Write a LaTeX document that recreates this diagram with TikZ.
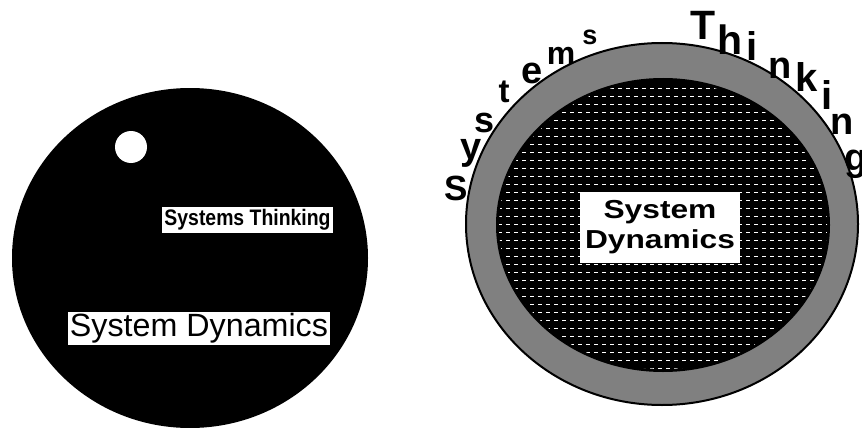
\documentclass[tikz,border=0pt]{standalone}
\usepackage{fontspec}
\setmainfont{Liberation Sans}
\usepackage{graphicx}
\begin{document}
\begin{tikzpicture}[x=1pt,y=-1pt,
  arcl/.style={font=\bfseries\fontsize{#1}{#1}\selectfont, anchor=base, inner sep=0pt, text=black},
  wbox/.style={fill=white, inner sep=0pt, text=black},
  ring/.style={fill=black!50, draw=black, line width=2pt},
  core/.style={fill=black},
  dots/.style={draw=white, line width=1pt, dash pattern=on 3.5pt off 4.5pt}]
\useasboundingbox (0,0) rectangle (862,428);
% ---- left disc ----
\fill[black] (190,258) ellipse [x radius=178, y radius=170];
\fill[white] (131,147) circle [radius=16];
\node[wbox, minimum width=171pt, minimum height=26pt] (st) at (247.5,220)
  {\resizebox*{166pt}{21pt}{\bfseries Systems Thinking}};
\node[wbox, minimum width=262pt, minimum height=33pt] (sd) at (199,328.5)
  {\resizebox*{258pt}{30pt}{System Dynamics}};
% ---- right disc ----
\path[ring] (662,224) ellipse [x radius=196, y radius=181];
\path[core] (663,225) ellipse [x radius=167, y radius=147];
\begin{scope}
  \clip (663,225) ellipse [x radius=164, y radius=144];
  \foreach \k in {0,...,38} {
    \draw[dots] (490,{80+8*\k}) -- (840,{80+8*\k});
  }
\end{scope}
\node[wbox, minimum width=160pt, minimum height=71pt, align=center,
      font=\bfseries\fontsize{26}{30}\selectfont] (rsd) at (660,227.5)
  {\scalebox{1.22}[1]{System}\\\scalebox{1.22}[1]{Dynamics}};
% ---- arc letters ----
\node[arcl=35] (a1) at (456,200) {S};
\node[arcl=38] (a2) at (471,159) {y};
\node[arcl=36] (a3) at (485,132) {s};
\node[arcl=33] (a4) at (504,102) {t};
\node[arcl=38] (a5) at (532,83) {e};
\node[arcl=32] (a6) at (561,65) {m};
\node[arcl=27] (a7) at (590,45) {s};
\node[arcl=41] (b1) at (703,40) {T};
\node[arcl=41] (b2) at (730,55) {h};
\node[arcl=40] (b3) at (752,60) {i};
\node[arcl=38] (b4) at (780,78) {n};
\node[arcl=40] (b5) at (807,92) {k};
\node[arcl=40] (b6) at (827,110) {i};
\node[arcl=38] (b7) at (842,134) {n};
\node[arcl=38] (b8) at (856,170) {g};
\end{tikzpicture}
\end{document}
